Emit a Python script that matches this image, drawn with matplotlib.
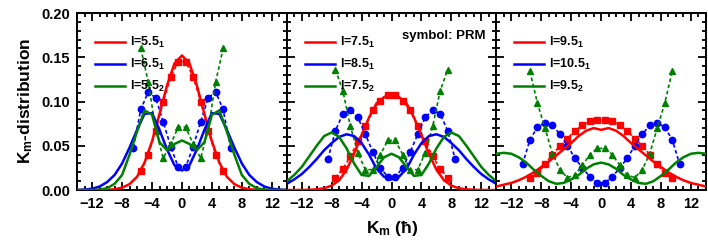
import numpy as np
import matplotlib
matplotlib.use("Agg")
import matplotlib.pyplot as plt
from matplotlib.ticker import MultipleLocator, FormatStrFormatter

plt.rcParams["font.family"] = ["Liberation Sans", "DejaVu Sans"]
plt.rcParams["font.weight"] = "bold"
plt.rcParams["mathtext.fontset"] = "custom"
plt.rcParams["mathtext.bf"] = "Liberation Sans:bold"
plt.rcParams["mathtext.rm"] = "Liberation Sans:bold"
plt.rcParams["mathtext.default"] = "bf"

RED = "#ff0000"
BLUE = "#0000ff"
GREEN = "#008000"

# solid curves sampled on integer K, -14..14
K_line = np.arange(-14, 15)

red_55_1 = [0, 0, 0, 0, 0.0002, 0.0009, 0.0026, 0.0067, 0.015, 0.031, 0.055, 0.086, 0.118, 0.143,
            0.152, 0.143, 0.118, 0.086, 0.055, 0.031, 0.015, 0.0067, 0.0026, 0.0009, 0.0002, 0, 0, 0, 0]
blue_65_1 = [0, 0.0005, 0.0015, 0.004, 0.009, 0.017, 0.030, 0.048, 0.068, 0.086, 0.087, 0.068, 0.046, 0.028,
             0.022, 0.028, 0.046, 0.068, 0.087, 0.086, 0.068, 0.048, 0.030, 0.017, 0.009, 0.004, 0.0015, 0.0005, 0]
green_55_2 = [0, 0, 0, 0.0005, 0.002, 0.007, 0.017, 0.040, 0.066, 0.090, 0.085, 0.054, 0.045, 0.052,
              0.056, 0.052, 0.045, 0.054, 0.085, 0.090, 0.066, 0.040, 0.017, 0.007, 0.002, 0.0005, 0, 0, 0]

red_75_1 = [0, 0, 0.0001, 0.0003, 0.0008, 0.002, 0.005, 0.011, 0.023, 0.041, 0.062, 0.082, 0.098, 0.105,
            0.108, 0.105, 0.098, 0.082, 0.062, 0.041, 0.023, 0.011, 0.005, 0.002, 0.0008, 0.0003, 0.0001, 0, 0]
blue_85_1 = [0.007, 0.012, 0.018, 0.026, 0.035, 0.045, 0.053, 0.060, 0.063, 0.061, 0.053, 0.040, 0.024, 0.015,
             0.012, 0.015, 0.024, 0.040, 0.053, 0.061, 0.063, 0.060, 0.053, 0.045, 0.035, 0.026, 0.018, 0.012, 0.007]
green_75_2 = [0.010, 0.017, 0.026, 0.038, 0.050, 0.061, 0.065, 0.060, 0.047, 0.030, 0.017, 0.016, 0.026, 0.037,
              0.041, 0.037, 0.026, 0.016, 0.017, 0.030, 0.047, 0.060, 0.065, 0.061, 0.050, 0.038, 0.026, 0.017, 0.010]

red_95_1 = [0.004, 0.006, 0.008, 0.011, 0.015, 0.020, 0.026, 0.032, 0.039, 0.046, 0.053, 0.061, 0.067, 0.070,
            0.068, 0.070, 0.067, 0.061, 0.053, 0.046, 0.039, 0.032, 0.026, 0.020, 0.015, 0.011, 0.008, 0.006, 0.004]
green_95_2 = [0.041, 0.042, 0.041, 0.037, 0.031, 0.023, 0.016, 0.010, 0.007, 0.008, 0.012, 0.017, 0.024, 0.029,
              0.031, 0.029, 0.024, 0.017, 0.012, 0.008, 0.007, 0.010, 0.016, 0.023, 0.031, 0.037, 0.041, 0.042, 0.041]

# PRM symbols on half-integer K
prm_red_55 = [0.021, 0.040, 0.067, 0.100, 0.128, 0.145, 0.145, 0.128, 0.100, 0.067, 0.040, 0.021]
prm_blue_65 = [0.048, 0.091, 0.111, 0.104, 0.077, 0.049, 0.026, 0.026, 0.049, 0.077, 0.104, 0.111, 0.091, 0.048]
prm_green_55 = [0.160, 0.122, 0.068, 0.036, 0.052, 0.071, 0.071, 0.052, 0.036, 0.068, 0.122, 0.160]

prm_red_75 = [0.014, 0.024, 0.038, 0.055, 0.072, 0.090, 0.101, 0.107, 0.107, 0.101, 0.090, 0.072, 0.055, 0.038, 0.024, 0.014]
prm_blue_85 = [0.035, 0.067, 0.086, 0.090, 0.082, 0.063, 0.043, 0.025, 0.015,
               0.015, 0.025, 0.043, 0.063, 0.082, 0.090, 0.086, 0.067, 0.035]
prm_green_75 = [0.136, 0.112, 0.072, 0.042, 0.023, 0.023, 0.040, 0.056, 0.056, 0.040, 0.023, 0.023, 0.042, 0.072, 0.112, 0.136]

prm_red_95 = [0.014, 0.019, 0.029, 0.040, 0.050, 0.058, 0.067, 0.073, 0.078, 0.079,
              0.079, 0.078, 0.073, 0.067, 0.058, 0.050, 0.040, 0.029, 0.019, 0.014]
prm_blue_105 = [0.029, 0.057, 0.071, 0.076, 0.073, 0.063, 0.050, 0.036, 0.025, 0.015, 0.008,
                0.008, 0.015, 0.025, 0.036, 0.050, 0.063, 0.073, 0.076, 0.071, 0.057, 0.029]
prm_green_95 = [0.134, 0.098, 0.070, 0.041, 0.023, 0.014, 0.017, 0.028, 0.040, 0.047,
                0.047, 0.040, 0.028, 0.017, 0.014, 0.023, 0.041, 0.070, 0.098, 0.134]

labels = [
    ["l=5.5$_1$", "l=6.5$_1$", "l=5.5$_2$"],
    ["l=7.5$_1$", "l=8.5$_1$", "l=7.5$_2$"],
    ["l=9.5$_1$", "l=10.5$_1$", "l=9.5$_2$"],
]
lines = [
    [red_55_1, blue_65_1, green_55_2],
    [red_75_1, blue_85_1, green_75_2],
    [red_95_1, None, green_95_2],
]
symbols = [
    [(5.5, prm_red_55), (6.5, prm_blue_65), (5.5, prm_green_55)],
    [(7.5, prm_red_75), (8.5, prm_blue_85), (7.5, prm_green_75)],
    [(9.5, prm_red_95), (10.5, prm_blue_105), (9.5, prm_green_95)],
]
colors = [RED, BLUE, GREEN]
markers = ["s", "o", "^"]
msizes = [3.8, 4.6, 5.0]

fig = plt.figure(figsize=(7.08, 2.43), dpi=100)
axes = fig.subplots(1, 3, sharey=True)
fig.subplots_adjust(left=0.109, right=0.997, bottom=0.218, top=0.9465, wspace=0)

for i, ax in enumerate(axes):
    handles = []
    for j in range(3):
        spin, vals = symbols[i][j]
        ks = np.arange(-spin, spin + 0.5, 1.0)
        ax.plot(ks, vals, ls=(0, (2.2, 1.6)), lw=1.2, color=colors[j],
                marker=markers[j], ms=msizes[j], mec=colors[j], mfc=colors[j], zorder=2)
    for j in range(3):
        if lines[i][j] is not None:
            ax.plot(K_line, lines[i][j], color=colors[j], lw=1.8, zorder=3)
        handles.append(plt.Line2D([], [], color=colors[j], lw=1.8))
    ax.legend(handles, labels[i], loc="upper left", bbox_to_anchor=(0.085, 0.875),
              frameon=False, fontsize=9, handlelength=2.4, handletextpad=0.4,
              labelspacing=0.55, borderaxespad=0, borderpad=0)

    ax.set_xlim(-14, 14)
    ax.set_ylim(0, 0.20)
    ax.set_xticks([-12, -8, -4, 0, 4, 8, 12])
    ax.xaxis.set_minor_locator(MultipleLocator(1))
    ax.yaxis.set_major_locator(MultipleLocator(0.05))
    ax.yaxis.set_minor_locator(MultipleLocator(0.01))
    ax.yaxis.set_major_formatter(FormatStrFormatter("%.2f"))
    ax.tick_params(which="both", direction="in", top=True, right=True, width=1.3, labelsize=10.5, pad=5)
    ax.tick_params(which="major", length=6)
    ax.tick_params(which="minor", length=3)
    for s in ax.spines.values():
        s.set_linewidth(1.4)

axes[1].text(0.55, 0.855, "symbol: PRM", transform=axes[1].transAxes, fontsize=9.5, fontweight="bold")

fig.text(0.036, 0.585, "K$_m$-distribution", rotation=90, ha="center", va="center", fontsize=12.5)
fig.text(0.554, 0.06, "K$_m$ (ħ)", ha="center", va="center", fontsize=12.5)

fig.savefig("out.png", dpi=100)
